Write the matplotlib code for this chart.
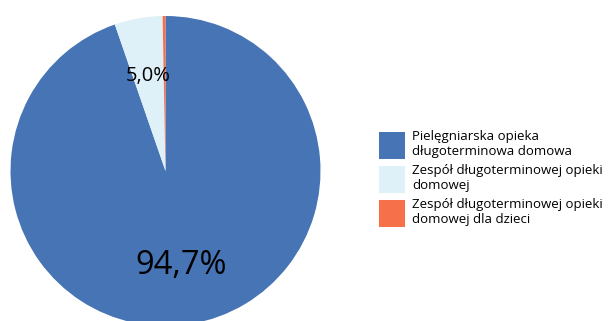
import matplotlib
matplotlib.use('Agg')
import matplotlib.pyplot as plt
from matplotlib.patches import Patch

labels = ['Pielęgniarska opieka\ndługoterminowa domowa',
          'Zespół długoterminowej opieki\ndomowej',
          'Zespół długoterminowej opieki\ndomowej dla dzieci']
values = [94.7, 5.0, 0.3]
colors = ['#4674B5', '#DFF1F8', '#F6714A']
pct_sizes = [23.5, 14.5, 10]

plt.rcParams['font.family'] = ['Open Sans', 'DejaVu Sans']

fig = plt.figure(figsize=(6.14, 3.21), dpi=100)
ax = fig.add_axes([10.5 / 614, -5 / 321, 310 / 614, 310 / 321])


def fmt(p):
    return f'{p:.1f}%'.replace('.', ',') if p > 1 else ''


wedges, texts, autotexts = ax.pie(values, colors=colors, startangle=90, counterclock=False,
                                  autopct=fmt, pctdistance=0.62,
                                  wedgeprops=dict(linewidth=0))
for t, s in zip(autotexts, pct_sizes):
    t.set_fontsize(s)
    t.set_color('black')
ax.set_xlim(-1, 1)
ax.set_ylim(-1, 1)
ax.set_aspect('equal')
ax.axis('off')

handles = [Patch(facecolor=c, edgecolor='none') for c in colors]
fig.legend(handles, labels, loc='center left', bbox_to_anchor=(379 / 614, 1 - 178.5 / 321),
           frameon=False, fontsize=9.5, handlelength=1.97, handleheight=2.67,
           handletextpad=0.53, labelspacing=0.45, borderpad=0, borderaxespad=0)

fig.savefig('out.png', dpi=100)
